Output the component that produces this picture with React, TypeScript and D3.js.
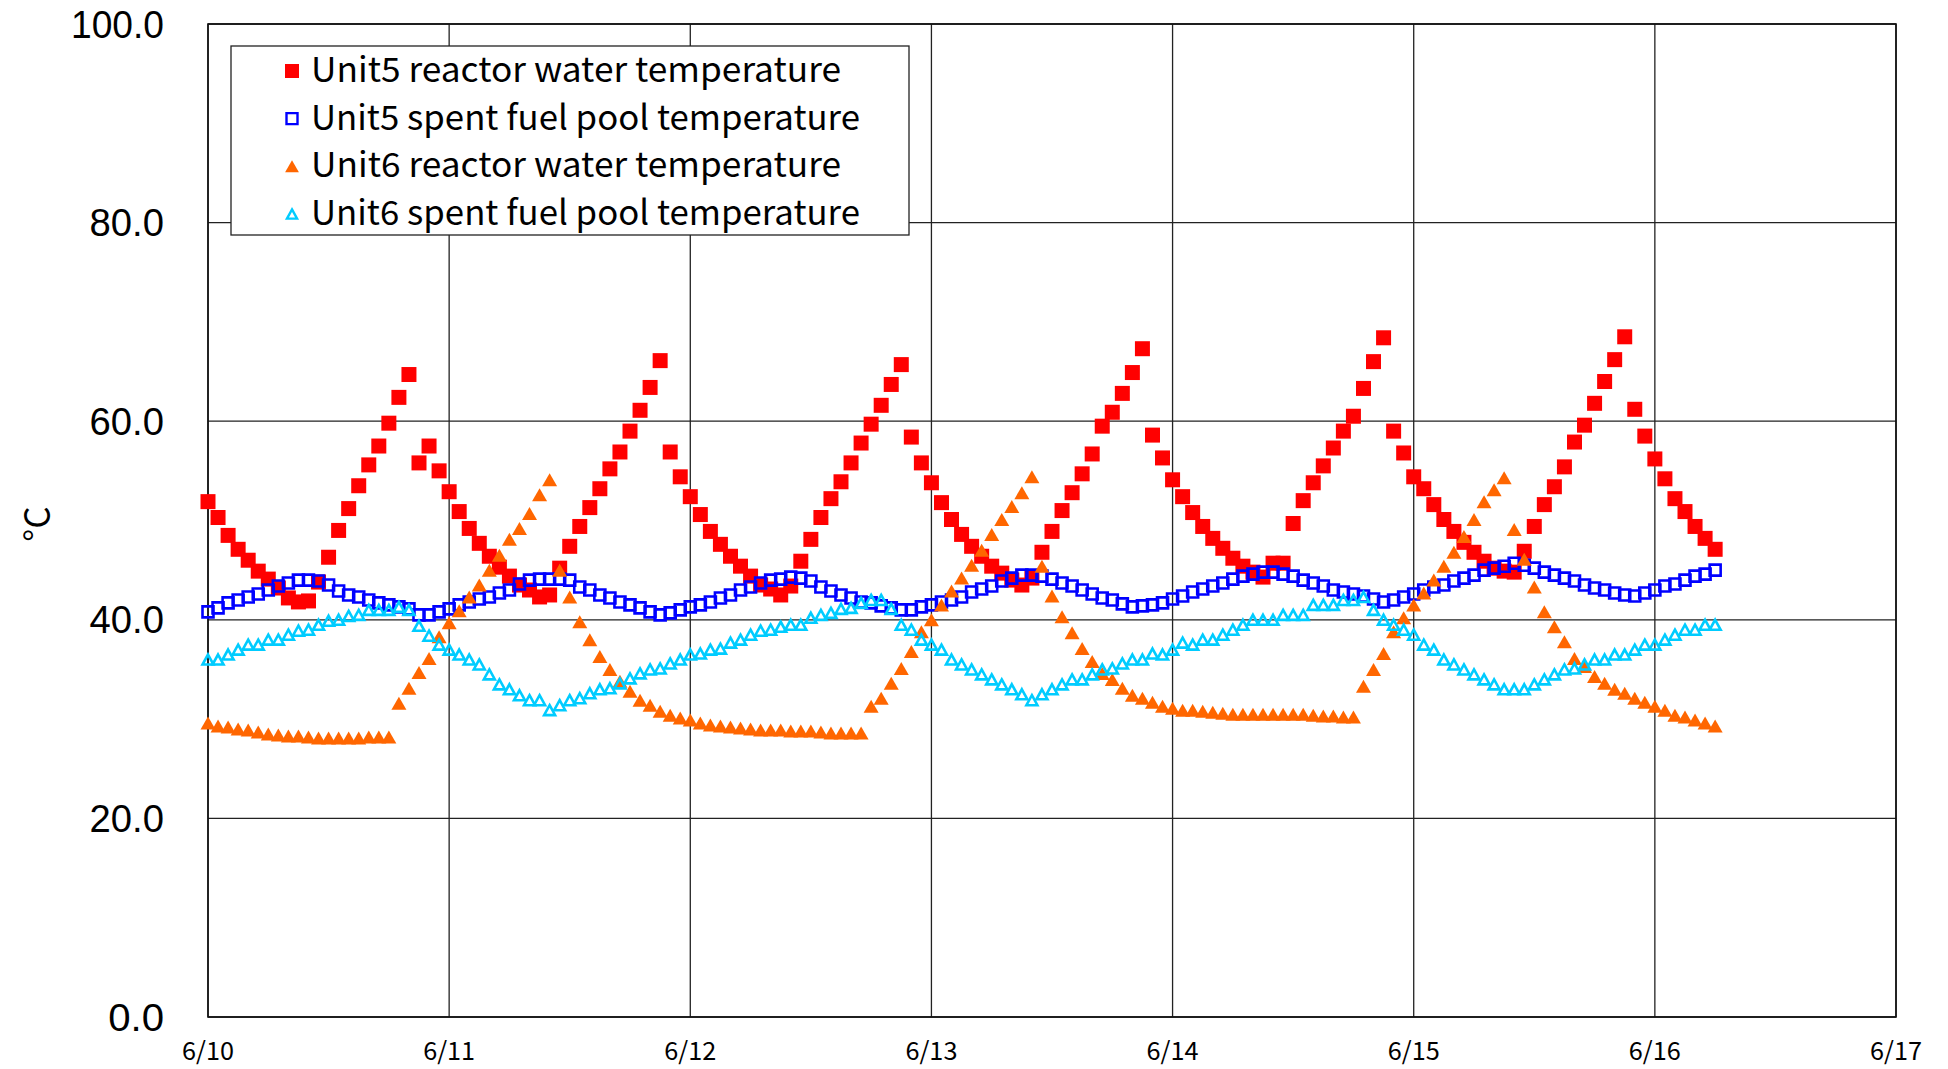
import { useRef, useEffect } from "react";
import * as d3 from "d3";

// hourly readings, 6/10 00:00 -> 6/16 06:00
const dateLabels = ["6/10", "6/11", "6/12", "6/13", "6/14", "6/15", "6/16", "6/17"];
const yTickValues = [0, 20, 40, 60, 80, 100];

const unit5Reactor = [
  51.9, 50.3, 48.5, 47.1, 46.0, 44.9, 44.1, 43.2, 42.2, 41.8,
  41.9, 43.8, 46.3, 49.0, 51.2, 53.5, 55.6, 57.5, 59.8, 62.4,
  64.7, 55.8, 57.5, 55.0, 52.9, 50.9, 49.2, 47.7, 46.4, 45.3,
  44.4, 43.5, 43.0, 42.3, 42.5, 45.2, 47.4, 49.4, 51.3, 53.2,
  55.2, 56.9, 59.0, 61.1, 63.4, 66.1, 56.9, 54.4, 52.4, 50.6,
  48.9, 47.6, 46.4, 45.4, 44.4, 43.5, 43.1, 42.5, 43.4, 45.9,
  48.1, 50.3, 52.2, 53.9, 55.8, 57.8, 59.7, 61.6, 63.7, 65.7,
  58.4, 55.8, 53.8, 51.8, 50.1, 48.6, 47.4, 46.4, 45.4, 44.7,
  44.0, 43.5, 44.2, 46.8, 48.9, 51.0, 52.8, 54.7, 56.7, 59.5,
  60.9, 62.8, 64.9, 67.3, 58.6, 56.3, 54.1, 52.4, 50.8, 49.4,
  48.2, 47.2, 46.2, 45.4, 44.8, 44.3, 45.7, 45.7, 49.7, 52.0,
  53.8, 55.5, 57.3, 59.0, 60.5, 63.3, 66.0, 68.4, 59.0, 56.8,
  54.4, 53.2, 51.6, 50.1, 48.9, 47.8, 46.8, 45.9, 45.2, 44.9,
  44.8, 46.9, 49.4, 51.6, 53.4, 55.4, 57.9, 59.6, 61.8, 64.0,
  66.2, 68.5, 61.2, 58.5, 56.2, 54.2, 52.2, 50.9, 49.4, 48.2,
  47.1,
];

const unit5Pool = [
  40.8, 41.2, 41.7, 42.0, 42.3, 42.6, 43.0, 43.4, 43.7, 44.0,
  44.0, 43.9, 43.5, 42.9, 42.5, 42.3, 42.0, 41.7, 41.5, 41.3,
  41.1, 40.5, 40.5, 40.8, 41.1, 41.5, 41.8, 42.1, 42.3, 42.7,
  43.0, 43.6, 44.0, 44.1, 44.1, 44.1, 44.0, 43.3, 43.0, 42.5,
  42.2, 41.8, 41.5, 41.2, 40.8, 40.5, 40.7, 41.0, 41.3, 41.5,
  41.8, 42.2, 42.5, 43.0, 43.3, 43.7, 44.0, 44.1, 44.3, 44.2,
  43.9, 43.3, 42.9, 42.5, 42.2, 41.8, 41.7, 41.4, 41.2, 41.0,
  41.0, 41.3, 41.5, 41.8, 42.0, 42.3, 42.8, 43.1, 43.4, 43.9,
  44.2, 44.5, 44.5, 44.4, 44.1, 43.7, 43.4, 43.0, 42.6, 42.2,
  42.0, 41.6, 41.3, 41.4, 41.5, 41.7, 42.1, 42.4, 42.8, 43.1,
  43.4, 43.7, 44.1, 44.4, 44.6, 44.8, 44.8, 44.6, 44.4, 44.0,
  43.7, 43.4, 43.0, 42.8, 42.6, 42.4, 42.1, 41.8, 42.0, 42.3,
  42.6, 43.0, 43.3, 43.5, 43.9, 44.2, 44.5, 45.0, 45.2, 45.4,
  45.7, 45.5, 45.2, 44.8, 44.5, 44.2, 43.9, 43.5, 43.2, 43.0,
  42.7, 42.5, 42.4, 42.7, 43.0, 43.4, 43.6, 44.0, 44.4, 44.6,
  45.0,
];

const unit6Reactor = [
  29.6, 29.3, 29.2, 29.0, 28.9, 28.7, 28.5, 28.4, 28.3, 28.3,
  28.2, 28.1, 28.1, 28.1, 28.1, 28.1, 28.2, 28.2, 28.2, 31.6,
  33.1, 34.7, 36.1, 38.3, 39.7, 40.9, 42.3, 43.5, 45.0, 46.5,
  48.1, 49.2, 50.7, 52.6, 54.1, 45.0, 42.3, 39.8, 38.0, 36.3,
  35.0, 33.8, 32.8, 31.9, 31.4, 30.8, 30.4, 30.1, 29.9, 29.6,
  29.4, 29.3, 29.2, 29.1, 29.0, 28.9, 28.9, 28.9, 28.8, 28.8,
  28.8, 28.7, 28.6, 28.6, 28.6, 28.6, 31.3, 32.1, 33.6, 35.1,
  36.8, 38.8, 40.0, 41.5, 42.9, 44.2, 45.5, 47.0, 48.6, 50.1,
  51.4, 52.8, 54.4, 45.4, 42.4, 40.3, 38.7, 37.1, 35.8, 34.6,
  34.0, 33.1, 32.4, 32.1, 31.7, 31.3, 31.1, 30.9, 30.9, 30.8,
  30.7, 30.6, 30.5, 30.5, 30.5, 30.5, 30.5, 30.5, 30.5, 30.5,
  30.4, 30.3, 30.3, 30.2, 30.2, 33.3, 35.0, 36.6, 38.8, 40.2,
  41.5, 42.7, 44.0, 45.4, 46.8, 48.4, 50.1, 51.9, 53.1, 54.3,
  49.1, 46.1, 43.3, 40.8, 39.3, 37.8, 36.1, 35.3, 34.3, 33.6,
  33.0, 32.6, 32.1, 31.7, 31.3, 30.9, 30.4, 30.2, 29.9, 29.6,
  29.3,
];

const unit6Pool = [
  36.0, 36.0, 36.5, 37.0, 37.5, 37.5, 38.0, 38.0, 38.5, 38.9,
  39.0, 39.5, 39.9, 40.0, 40.4, 40.5, 41.0, 41.0, 41.0, 41.3,
  41.0, 39.4, 38.4, 37.5, 37.0, 36.5, 36.0, 35.5, 34.5, 33.5,
  33.0, 32.4, 31.9, 31.9, 30.9, 31.4, 31.9, 32.1, 32.6, 33.0,
  33.1, 33.6, 34.1, 34.6, 35.0, 35.1, 35.6, 36.0, 36.5, 36.6,
  37.0, 37.1, 37.7, 38.0, 38.5, 38.9, 39.0, 39.3, 39.5, 39.5,
  40.2, 40.5, 40.7, 41.1, 41.2, 41.7, 42.0, 42.0, 41.1, 39.5,
  39.0, 38.0, 37.5, 37.0, 36.0, 35.5, 35.0, 34.5, 34.0, 33.5,
  33.0, 32.5, 31.9, 32.5, 33.0, 33.5, 34.0, 34.0, 34.5, 35.0,
  35.1, 35.6, 36.0, 36.0, 36.6, 36.5, 37.0, 37.7, 37.5, 38.0,
  38.0, 38.5, 39.0, 39.5, 40.0, 40.0, 40.0, 40.5, 40.5, 40.5,
  41.5, 41.5, 41.5, 42.0, 42.0, 42.3, 41.0, 40.0, 39.5, 39.0,
  38.5, 37.5, 37.0, 36.0, 35.5, 35.0, 34.5, 34.0, 33.5, 33.0,
  33.0, 33.0, 33.5, 34.0, 34.5, 35.0, 35.1, 35.5, 36.0, 36.0,
  36.5, 36.5, 37.0, 37.5, 37.5, 38.0, 38.5, 39.0, 39.0, 39.5,
  39.5,
];

const seriesNames = [
  "Unit5 reactor water temperature",
  "Unit5 spent fuel pool temperature",
  "Unit6 reactor water temperature",
  "Unit6 spent fuel pool temperature",
];

interface Series {
  name: string;
  values: number[];
  color: string;
  shape: "square" | "triangle";
  filled: boolean;
}

const series: Series[] = [
  { name: seriesNames[0], values: unit5Reactor, color: "#ff0000", shape: "square", filled: true },
  { name: seriesNames[1], values: unit5Pool, color: "#0000ff", shape: "square", filled: false },
  { name: seriesNames[2], values: unit6Reactor, color: "#ff6600", shape: "triangle", filled: true },
  { name: seriesNames[3], values: unit6Pool, color: "#00ccff", shape: "triangle", filled: false },
];

const W = 1948;
const H = 1069;
const FONT = "'Noto Sans CJK JP', 'Noto Sans', sans-serif";
const NUM_FONT = "'Liberation Sans', Arial, sans-serif";

// marker path centred on 0,0
const markerPath = (s: Series, inLegend: boolean) => {
  if (s.shape === "square") {
    const a = s.filled ? (inLegend ? 14 : 15) : 11;
    return `M${-a / 2},${-a / 2}h${a}v${a}h${-a}Z`;
  }
  const k = inLegend ? 0.92 : 1;
  const w = (s.filled ? 15 : 11) * k;
  const h = (s.filled ? 13 : 10) * k;
  return `M0,${-h / 2}L${w / 2},${h / 2}L${-w / 2},${h / 2}Z`;
};

const App = () => {
  const ref = useRef<SVGSVGElement | null>(null);

  useEffect(() => {
    const svg = d3.select(ref.current);
    svg.selectAll("*").remove();

    const left = 208;
    const right = 1896;
    const top = 24;
    const bottom = 1017;

    const x = d3.scaleLinear().domain([0, 24 * 7]).range([left, right]);
    const y = d3.scaleLinear().domain([0, 100]).range([bottom, top]);

    svg.append("rect").attr("width", W).attr("height", H).attr("fill", "#fff");

    // grid
    const grid = svg.append("g").attr("stroke", "#222").attr("stroke-width", 1.3);
    grid
      .selectAll("line.h")
      .data(yTickValues)
      .enter()
      .append("line")
      .attr("x1", left)
      .attr("x2", right)
      .attr("y1", (d) => y(d))
      .attr("y2", (d) => y(d));
    grid
      .selectAll("line.v")
      .data(dateLabels)
      .enter()
      .append("line")
      .attr("x1", (_, i) => x(i * 24))
      .attr("x2", (_, i) => x(i * 24))
      .attr("y1", top)
      .attr("y2", bottom);

    svg
      .append("rect")
      .attr("x", left)
      .attr("y", top)
      .attr("width", right - left)
      .attr("height", bottom - top)
      .attr("fill", "none")
      .attr("stroke", "#111")
      .attr("stroke-width", 1.6);

    // y tick labels
    svg
      .append("g")
      .selectAll("text")
      .data(yTickValues)
      .enter()
      .append("text")
      .attr("x", 164)
      .attr("y", (d) => y(d))
      .attr("dy", "0.36em")
      .attr("text-anchor", "end")
      .attr("font-family", NUM_FONT)
      .attr("font-size", 38)
      .attr("textLength", (d) => d.toFixed(1).length * 18.6)
      .attr("lengthAdjust", "spacingAndGlyphs")
      .text((d) => d.toFixed(1));

    // x tick labels
    svg
      .append("g")
      .selectAll("text")
      .data(dateLabels)
      .enter()
      .append("text")
      .attr("x", (_, i) => x(i * 24))
      .attr("y", 1060)
      .attr("text-anchor", "middle")
      .attr("font-family", FONT)
      .attr("font-size", 25)
      .attr("textLength", (d) => d.length * 13)
      .attr("lengthAdjust", "spacingAndGlyphs")
      .text((d) => d);

    // y axis title
    svg
      .append("text")
      .attr("transform", "translate(50,524) rotate(-90)")
      .attr("text-anchor", "middle")
      .attr("font-family", FONT)
      .attr("font-size", 35)
      .text("°C");

    // points, drawn in series order
    series.forEach((s) => {
      svg
        .append("g")
        .selectAll("path")
        .data(s.values)
        .enter()
        .append("path")
        .attr("transform", (d, i) => `translate(${x(i)},${y(d)})`)
        .attr("d", markerPath(s, false))
        .attr("fill", s.filled ? s.color : "none")
        .attr("stroke", s.filled ? "none" : s.color)
        .attr("stroke-width", s.filled ? 0 : 2.6)
        .attr("stroke-linejoin", "miter");
    });

    // legend
    const lg = svg.append("g");
    lg.append("rect")
      .attr("x", 231)
      .attr("y", 46)
      .attr("width", 678)
      .attr("height", 189)
      .attr("fill", "#fff")
      .attr("stroke", "#222")
      .attr("stroke-width", 1.3);

    const rowY = d3.scalePoint<number>().domain(d3.range(series.length)).range([71, 214]);
    const textWidths = [530, 549, 530, 549];

    series.forEach((s, i) => {
      lg.append("path")
        .attr("transform", `translate(292,${rowY(i)})`)
        .attr("d", markerPath(s, true))
        .attr("fill", s.filled ? s.color : "none")
        .attr("stroke", s.filled ? "none" : s.color)
        .attr("stroke-width", s.filled ? 0 : 2.4);
      lg.append("text")
        .attr("x", 311)
        .attr("y", (rowY(i) as number) + 11)
        .attr("font-family", FONT)
        .attr("font-size", 34)
        .attr("textLength", textWidths[i])
        .attr("lengthAdjust", "spacingAndGlyphs")
        .text(s.name);
    });
  }, []);

  return (
    <svg
      ref={ref}
      width={W}
      height={H}
      style={{ position: "absolute", left: 0, top: 0 }}
    />
  );
};

export default App;
